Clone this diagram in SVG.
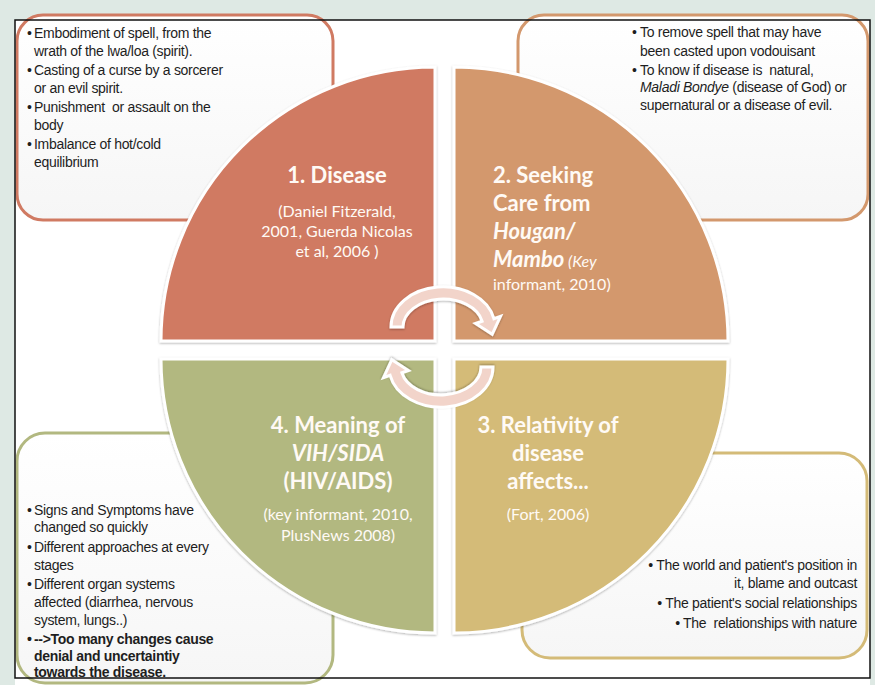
<svg xmlns="http://www.w3.org/2000/svg" width="875" height="685" viewBox="0 0 875 685">
<defs>
<style>
.box{fill:url(#boxg);stroke-width:3}
.q{stroke:#fff;stroke-width:3;filter:url(#sh)}
.body{font-family:"Liberation Sans",Arial,sans-serif;font-size:14px;fill:#1e1e1e;letter-spacing:-0.3px}
.bold{font-weight:bold}
.qt{font-family:Lato,"Open Sans",sans-serif;fill:#fffaf5;text-anchor:middle}
.qt2{font-family:Lato,"Open Sans",sans-serif;fill:#fffaf5}
.h{font-size:22px;font-weight:bold}
.s{font-size:16px}
.arrow{fill:#f2d4ca;stroke:#fff;stroke-width:3;filter:url(#sh)}
</style>
<linearGradient id="boxg" x1="0" y1="0" x2="0" y2="1">
<stop offset="0" stop-color="#ffffff"/>
<stop offset="1" stop-color="#f6f6f6"/>
</linearGradient>
<filter id="sh" x="-10%" y="-10%" width="120%" height="120%">
<feDropShadow dx="0" dy="1" stdDeviation="1.2" flood-color="#000" flood-opacity="0.3"/>
</filter>
</defs>
<rect x="0" y="0" width="875" height="685" fill="#dee9e4"/>
<rect x="15" y="20" width="855" height="665" fill="#ffffff"/>

<g id="box-disease"><rect class="box" x="17" y="15" width="316" height="205" rx="26" stroke="#d07a62"/></g>
<g id="box-seeking"><rect class="box" x="518" y="15" width="350" height="205" rx="26" stroke="#d3986d"/></g>
<g id="box-meaning"><rect class="box" x="17" y="433" width="316" height="250" rx="28" stroke="#b2b880"/></g>
<g id="box-relativity"><rect class="box" x="522" y="453" width="345" height="205" rx="28" stroke="#d4bb78"/></g>

<g id="q1"><path class="q" d="M435,341 L161,341 A274,274 0 0 1 435,67 Z" fill="#d07a62"/></g>
<g id="q2"><path class="q" d="M454,341 L454,67 A274,274 0 0 1 728,341 Z" fill="#d3986d"/></g>
<g id="q3"><path class="q" d="M454,359 L728,359 A274,274 0 0 1 454,633 Z" fill="#d4bb78"/></g>
<g id="q4"><path class="q" d="M435,359 L435,633 A274,274 0 0 1 161,359 Z" fill="#b2b880"/></g>

<g id="connectors">
<path class="arrow" d="M403,327 L391,327 A52,40 0 0 1 493.9,318.7 L500.5,316.3 L492.2,334.3 L475.5,323.5 L482.1,321.2 A40,28 0 0 0 403,327 Z"/>
<path class="arrow" transform="rotate(180 442 347)" d="M403,327 L391,327 A52,40 0 0 1 493.9,318.7 L500.5,316.3 L492.2,334.3 L475.5,323.5 L482.1,321.2 A40,28 0 0 0 403,327 Z"/>
</g>

<g id="text-disease" class="body">
<text x="27" y="38">•</text><text x="34" y="38">Embodiment of spell, from the</text>
<text x="34" y="56">wrath of the lwa/loa (spirit).</text>
<text x="27" y="75">•</text><text x="34" y="75">Casting of a curse by a sorcerer</text>
<text x="34" y="93">or an evil spirit.</text>
<text x="27" y="112">•</text><text x="34" y="112" xml:space="preserve">Punishment  or assault on the</text>
<text x="34" y="130">body</text>
<text x="27" y="149">•</text><text x="34" y="149">Imbalance of hot/cold</text>
<text x="34" y="167">equilibrium</text>
</g>

<g id="text-seeking" class="body">
<text x="632" y="37">•</text><text x="640" y="37">To remove spell that may have</text>
<text x="640" y="56">been casted upon vodouisant</text>
<text x="632" y="75">•</text><text x="640" y="75" xml:space="preserve">To know if disease is  natural,</text>
<text x="640" y="92"><tspan font-style="italic">Maladi Bondye</tspan> (disease of God) or</text>
<text x="640" y="110">supernatural or a disease of evil.</text>
</g>

<g id="text-meaning" class="body">
<text x="27" y="515">•</text><text x="34" y="515">Signs and Symptoms have</text>
<text x="34" y="532">changed so quickly</text>
<text x="27" y="552">•</text><text x="34" y="552">Different approaches at every</text>
<text x="34" y="570">stages</text>
<text x="27" y="589">•</text><text x="34" y="589">Different organ systems</text>
<text x="34" y="607">affected (diarrhea, nervous</text>
<text x="34" y="625">system, lungs..)</text>
<text x="27" y="644" class="bold">•</text><text x="34" y="644" class="bold">--&gt;Too many changes cause</text>
<text x="34" y="661" class="bold">denial and uncertaintiy</text>
<text x="34" y="677" class="bold">towards the disease.</text>
</g>

<g id="text-relativity" class="body" text-anchor="end">
<text x="857" y="570">• The world and patient's position in</text>
<text x="857" y="588">it, blame and outcast</text>
<text x="857" y="608">• The patient's social relationships</text>
<text x="857" y="628" xml:space="preserve">• The  relationships with nature</text>
</g>

<g id="label-q1" class="qt">
<text x="337" y="183" class="h">1. Disease</text>
<text x="337" y="217" class="s">(Daniel Fitzerald,</text>
<text x="337" y="237" class="s">2001, Guerda Nicolas</text>
<text x="337" y="257" class="s">et al, 2006 )</text>
</g>

<g id="label-q2" class="qt2">
<text x="493" y="183" class="h">2. Seeking</text>
<text x="493" y="211" class="h">Care from</text>
<text x="493" y="239" class="h" font-style="italic">Hougan/</text>
<text x="493" y="267"><tspan class="h" font-style="italic">Mambo</tspan><tspan class="s" font-style="italic"> (Key</tspan></text>
<text x="493" y="290" class="s">informant, 2010)</text>
</g>

<g id="label-q3" class="qt">
<text x="548" y="433" class="h">3. Relativity of</text>
<text x="548" y="461" class="h">disease</text>
<text x="548" y="489" class="h">affects...</text>
<text x="548" y="520" class="s">(Fort, 2006)</text>
</g>

<g id="label-q4" class="qt">
<text x="338" y="433" class="h">4. Meaning of</text>
<text x="338" y="461" class="h" font-style="italic">VIH/SIDA</text>
<text x="338" y="489" class="h">(HIV/AIDS)</text>
<text x="338" y="520" class="s">(key informant, 2010,</text>
<text x="338" y="541" class="s">PlusNews 2008)</text>
</g>

<rect x="15" y="20" width="855" height="658" fill="none" stroke="#111" stroke-width="1.5"/>
</svg>
